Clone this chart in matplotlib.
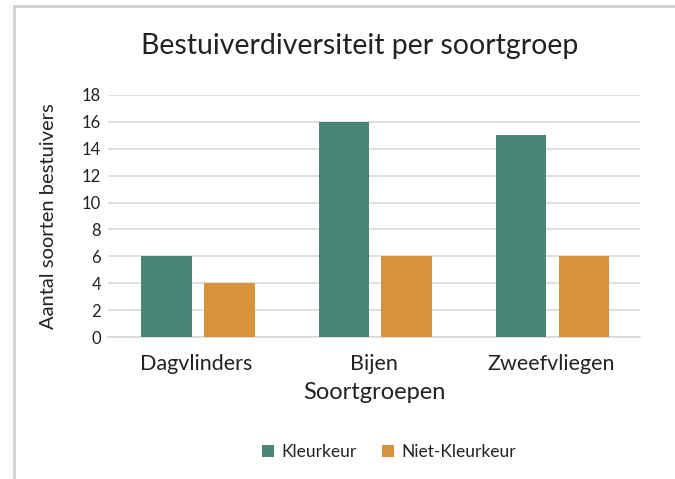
import numpy as np
import matplotlib
matplotlib.use("Agg")
import matplotlib.pyplot as plt
from matplotlib.lines import Line2D

plt.rcParams['font.family'] = ['Lato', 'DejaVu Sans']

groepen = ['Dagvlinders', 'Bijen', 'Zweefvliegen']
kleurkeur = [6, 16, 15]
niet_kleurkeur = [4, 6, 6]
series_names = ['Kleurkeur', 'Niet-Kleurkeur']
y_ticks = [0, 2, 4, 6, 8, 10, 12, 14, 16, 18]

green = '#4a8575'
orange = '#d8923a'
txt = '#222222'

fig = plt.figure(figsize=(6.75, 4.79), dpi=100)
ax = fig.add_axes([0.16, 0.296, 0.788, 0.506])

x = np.arange(len(groepen))
w = 0.285
ax.bar(x - 0.17, kleurkeur, w, color=green, label=series_names[0], zorder=3)
ax.bar(x + 0.185, niet_kleurkeur, w, color=orange, label=series_names[1], zorder=3)

ax.set_xlim(-0.5, 2.5)
ax.set_ylim(0, 18)
ax.set_yticks(y_ticks)
ax.set_yticklabels([str(v) for v in y_ticks], fontsize=12, color=txt)
ax.set_xticks(x)
ax.set_xticklabels(groepen, fontsize=15.5, color=txt)
ax.tick_params(axis='both', length=0)
ax.tick_params(axis='y', pad=5)
ax.tick_params(axis='x', pad=12)

ax.grid(axis='y', color='#d9d9d9', lw=1.2, zorder=0)
for s in ['top', 'right', 'left']:
    ax.spines[s].set_visible(False)
ax.spines['bottom'].set_color('#d9d9d9')
ax.spines['bottom'].set_linewidth(1.2)

ax.set_xlabel('Soortgroepen', fontsize=17, color=txt, labelpad=6)
ax.set_ylabel('Aantal soorten bestuivers', fontsize=14.5, color=txt, labelpad=18)

fig.text(0.533, 0.905, 'Bestuiverdiversiteit per soortgroep', ha='center',
         va='center', fontsize=20.5, color=txt)

ax.legend(loc='center', bbox_to_anchor=(0.528, -0.475), ncol=2, frameon=False,
          fontsize=12.5, handlelength=0.7, handleheight=0.7,
          columnspacing=1.5, handletextpad=0.4, labelcolor=txt)

# outer chart border (top and left)
fig.add_artist(Line2D([14 / 675, 14 / 675], [0, 1 - 6 / 479],
                      transform=fig.transFigure, color='#d0d0d0', lw=2))
fig.add_artist(Line2D([14 / 675, 1], [1 - 6 / 479, 1 - 6 / 479],
                      transform=fig.transFigure, color='#d0d0d0', lw=2))

fig.savefig('out.png', dpi=100, facecolor='white')
